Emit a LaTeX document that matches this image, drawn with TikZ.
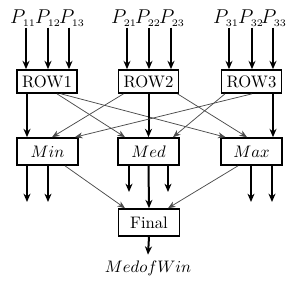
\documentclass[tikz,border=0pt]{standalone}
\usetikzlibrary{positioning,arrows.meta,calc}

\begin{document}
\begin{tikzpicture}[
    x=0.6pt,y=-0.6pt,
    rowbox/.style={draw,line width=1pt,minimum width=36pt,minimum height=13.8pt,inner sep=1pt},
    statbox/.style={draw,line width=1pt,minimum width=36.6pt,minimum height=16.2pt,inner sep=1pt},
    plabel/.style={inner sep=0.5pt,font=\large},
    heavy/.style={-{Stealth[length=5pt,width=4.2pt,inset=1.6pt]},line width=1.2pt},
    light/.style={-{Stealth[length=5pt,width=4.2pt,inset=1.6pt]},line width=0.7pt},
    cross/.style={-{Stealth[length=4.5pt,width=3.6pt,inset=1.4pt]},line width=0.45pt,black!70},
]
\useasboundingbox (0,0) rectangle (296,283);
% inputs
\node[plabel] (p11) at (23,18) {$P_{\scriptscriptstyle 11}$};
\node[plabel] (p12) at (48,18) {$P_{\scriptscriptstyle 12}$};
\node[plabel] (p13) at (72,18) {$P_{\scriptscriptstyle 13}$};
\node[plabel] (p21) at (124,18) {$P_{\scriptscriptstyle 21}$};
\node[plabel] (p22) at (148,18) {$P_{\scriptscriptstyle 22}$};
\node[plabel] (p23) at (172,18) {$P_{\scriptscriptstyle 23}$};
\node[plabel] (p31) at (226,18) {$P_{\scriptscriptstyle 31}$};
\node[plabel] (p32) at (251,18) {$P_{\scriptscriptstyle 32}$};
\node[plabel] (p33) at (274,18) {$P_{\scriptscriptstyle 33}$};
% boxes
\node[rowbox] (row1) at (47,81.5) {ROW1};
\node[rowbox] (row2) at (148.5,81.5) {ROW2};
\node[rowbox] (row3) at (251.5,81.5) {ROW3};
\node[statbox] (min) at (47.5,151.5) {$Min$};
\node[statbox] (med) at (148.5,151.5) {$Med$};
\node[statbox] (max) at (251.5,151.5) {$Max$};
\node[statbox] (final) at (149,222.5) {Final};
\node (res) at (148,268) {$MedofWin$};
% arrow columns under the labels
\coordinate (c11) at (26,0);
\coordinate (c12) at (48,0);
\coordinate (c13) at (69,0);
\coordinate (c21) at (127,0);
\coordinate (c22) at (149,0);
\coordinate (c23) at (171,0);
\coordinate (c31) at (229,0);
\coordinate (c32) at (252,0);
\coordinate (c33) at (273,0);
% free ends
\coordinate (minA) at (27,202);
\coordinate (minB) at (48,202);
\coordinate (medA) at (129,192);
\coordinate (medB) at (168,192);
\coordinate (maxA) at (251,202);
\coordinate (maxB) at (272,202);
% into the row boxes
\draw[heavy] (p11.south -| c11) -- (row1.north -| c11);
\draw[heavy] (p12.south -| c12) -- (row1.north -| c12);
\draw[light] (p13.south -| c13) -- (row1.north -| c13);
\draw[light] (p21.south -| c21) -- (row2.north -| c21);
\draw[light] (p22.south -| c22) -- (row2.north -| c22);
\draw[heavy] (p23.south -| c23) -- (row2.north -| c23);
\draw[light] (p31.south -| c31) -- (row3.north -| c31);
\draw[light] (p32.south -| c32) -- (row3.north -| c32);
\draw[heavy] (p33.south -| c33) -- (row3.north -| c33);
% rows to Min/Med/Max
\draw[heavy] ($(row1.south)+(-20,0)$) -- ($(min.north)+(-20.5,0)$);
\draw[cross] ($(row1.south)+(10,0)$) -- ($(med.north)+(-23.5,0)$);
\draw[cross] ($(row1.south)+(14,0)$) -- ($(max.north)+(-26,0)$);
\draw[cross] ($(row2.south)+(-25,0)$) -- ($(min.north)+(4.5,0)$);
\draw[heavy] (row2.south) -- (med.north);
\draw[cross] ($(row2.south)+(29,0)$) -- ($(max.north)+(-4.5,0)$);
\draw[cross] ($(row3.south)+(0.5,0)$) -- ($(min.north)+(27.5,0)$);
\draw[cross] ($(row3.south)+(-26.5,0)$) -- ($(med.north)+(24.5,0)$);
\draw[light] (row3.south -| c33) -- (max.north -| c33);
% outputs
\draw[heavy] (min.south -| minA) -- (minA);
\draw[light] (min.south -| minB) -- (minB);
\draw[heavy] (med.south -| medA) -- (medA);
\draw[heavy] (med.south) -- (final.north);
\draw[light] (med.south -| medB) -- (medB);
\draw[light] (max.south -| maxA) -- (maxA);
\draw[heavy] (max.south -| maxB) -- (maxB);
\draw[cross] ($(min.south)+(17.5,0)$) -- ($(final.north)+(-24,0)$);
\draw[cross] ($(max.south)+(-13.5,0)$) -- ($(final.north)+(19,0)$);
\draw[heavy] (final.south) -- (res.north);
\end{tikzpicture}
\end{document}
